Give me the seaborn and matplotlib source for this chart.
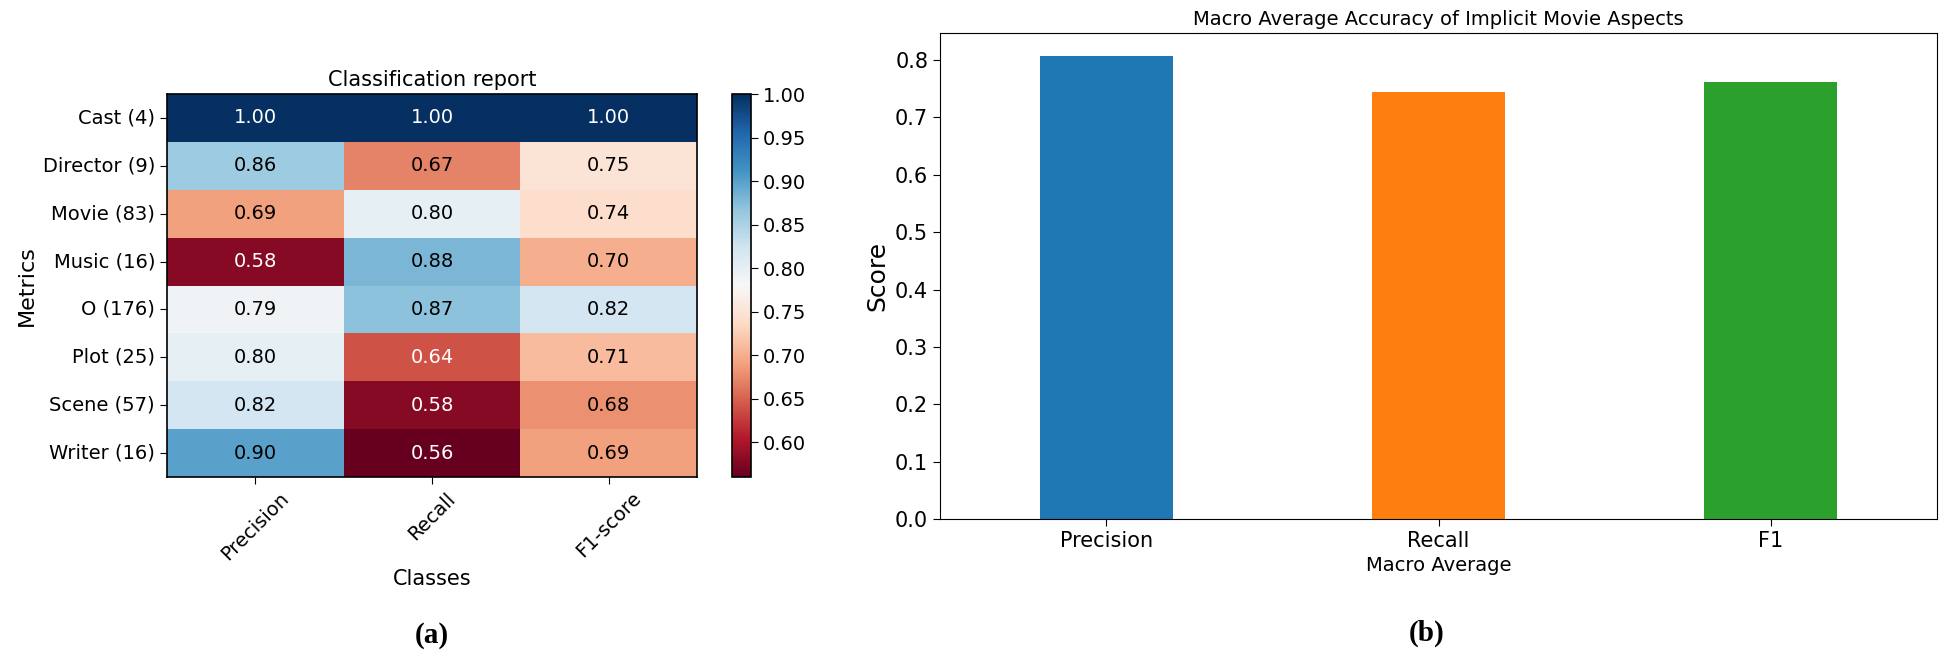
import numpy as np
import pandas as pd
import matplotlib
matplotlib.use("Agg")
import matplotlib.pyplot as plt
import seaborn as sns

# ── Data ──────────────────────────────────────────────────────────────────────
row_labels = ["Cast (4)", "Director (9)", "Movie (83)", "Music (16)",
              "O (176)", "Plot (25)", "Scene (57)", "Writer (16)"]
col_labels = ["Precision", "Recall", "F1-score"]
precision = [1.00, 0.86, 0.69, 0.58, 0.79, 0.80, 0.82, 0.90]
recall    = [1.00, 0.67, 0.80, 0.88, 0.87, 0.64, 0.58, 0.56]
f1_score  = [1.00, 0.75, 0.74, 0.70, 0.82, 0.71, 0.68, 0.69]

macro_labels = ["Precision", "Recall", "F1"]
macro_scores = [0.807, 0.744, 0.762]

plt.rcParams["font.family"] = ["DejaVu Sans"]
FS = 14

# ── Figure ────────────────────────────────────────────────────────────────────
fig = plt.figure(figsize=(19.41, 6.54), dpi=100)
ax_hm = fig.add_axes([0.0860, 0.2706, 0.2731, 0.5856])
ax_cb = fig.add_axes([0.3771, 0.2706, 0.0098, 0.5856])
ax_bar = fig.add_axes([0.4843, 0.2064, 0.5137, 0.7431])

# (a) heatmap
report = pd.DataFrame({"Precision": precision, "Recall": recall, "F1-score": f1_score},
                      index=row_labels)[col_labels]
sns.heatmap(report, ax=ax_hm, cbar_ax=ax_cb, cmap="RdBu", annot=True, fmt=".2f",
            annot_kws={"fontsize": FS}, vmax=1.0)
# text colour: white only on the darkest cells (both ends of the scale)
for txt in ax_hm.texts:
    v = float(txt.get_text())
    txt.set_color("white" if (v < 0.65 or v > 0.95) else "black")
for sp in ax_hm.spines.values():
    sp.set_visible(True)
    sp.set_linewidth(1.2)
ax_hm.set_title("Classification report", fontsize=FS + 1)
ax_hm.set_xlabel("Classes", fontsize=FS + 1)
ax_hm.set_ylabel("Metrics", fontsize=FS + 2)
ax_hm.tick_params(axis="both", labelsize=FS, length=5)
plt.setp(ax_hm.get_xticklabels(), rotation=45, ha="center")
plt.setp(ax_hm.get_yticklabels(), rotation=0)
cbar = ax_hm.collections[0].colorbar
cbar.set_ticks(np.arange(0.60, 1.001, 0.05))
cbar.ax.tick_params(labelsize=FS, length=5)
cbar.outline.set_visible(True)
cbar.outline.set_linewidth(1.2)

# (b) macro average bars
sns.barplot(x=macro_labels, y=macro_scores, hue=macro_labels, palette="tab10",
            width=0.4, ax=ax_bar, legend=False, saturation=1)
ax_bar.set_ylim(0, 0.847)
ax_bar.set_title("Macro Average Accuracy of Implicit Movie Aspects", fontsize=FS)
ax_bar.set_xlabel("Macro Average", fontsize=FS)
ax_bar.set_ylabel("Score", fontsize=FS + 4)
ax_bar.tick_params(axis="both", labelsize=FS + 1, length=5)

# panel letters
fig.text(0.2226, 0.029, "(a)", ha="center", va="center", fontsize=21,
         fontweight="bold", family="Liberation Serif")
fig.text(0.735, 0.032, "(b)", ha="center", va="center", fontsize=21,
         fontweight="bold", family="Liberation Serif")

fig.savefig("out.png", dpi=100)
plt.close(fig)
